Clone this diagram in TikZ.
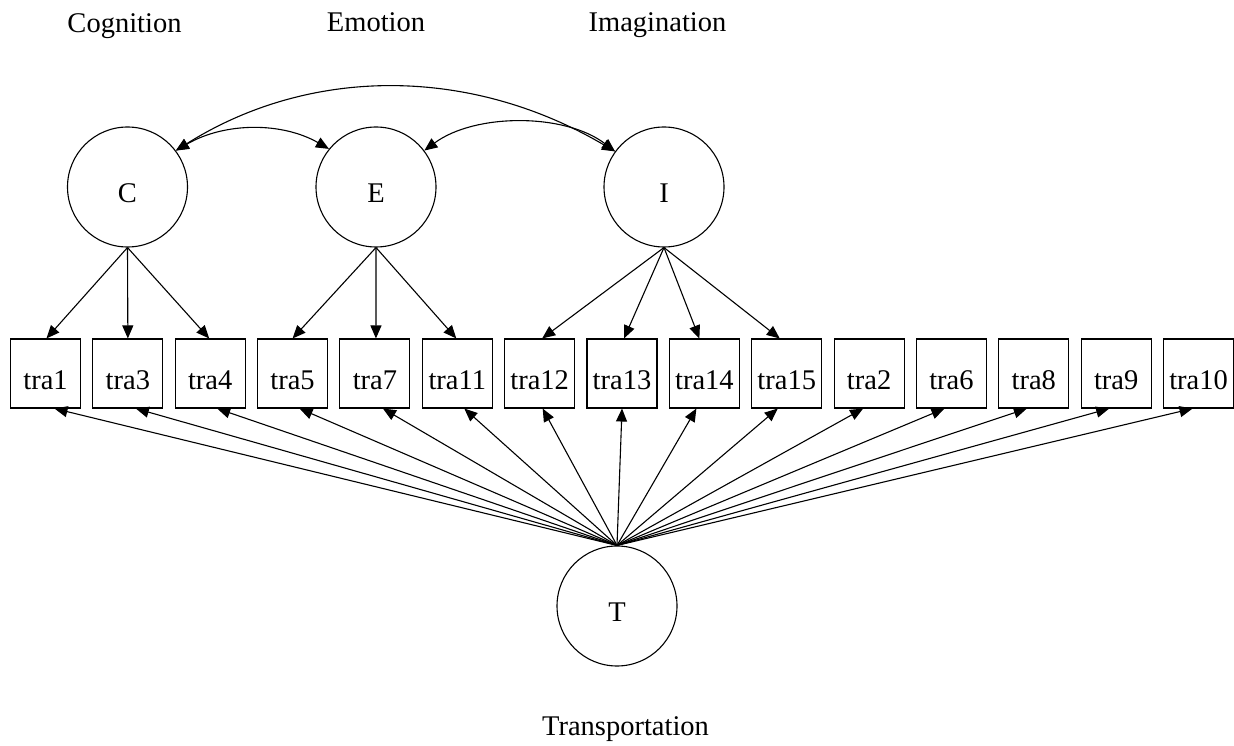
\documentclass[tikz,border=0pt]{standalone}
\usepackage{fontspec}
\setmainfont{Liberation Serif}
\usetikzlibrary{arrows.meta}
\begin{document}
\begin{tikzpicture}[x=1pt,y=-1pt,
  every node/.style={font=\fontsize{28.5}{34}\selectfont, inner sep=0pt},
  latent/.style={draw, circle, line width=1.1pt, minimum size=120pt, text height=31pt, text depth=0pt},
  obs/.style={draw, rectangle, line width=1.1pt, minimum width=70pt, minimum height=69pt, text height=31pt, text depth=0pt},
  lbl/.style={anchor=base},
  arr/.style={line width=1.1pt, -{Triangle[length=13pt,width=11pt]}},
  darr/.style={line width=1.1pt, {Triangle[length=13pt,width=11pt]}-{Triangle[length=13pt,width=11pt]}}
]
\useasboundingbox (0,0) rectangle (1234,746);
% latent factors
\node[latent] (C) at (127.5,187) {C};
\node[latent] (E) at (376,187) {E};
\node[latent] (I) at (664,187) {I};
\node[latent] (T) at (617,606) {T};
% labels
\node[lbl] (lC) at (124.5,33) {Cognition};
\node[lbl] (lE) at (376,32) {Emotion};
\node[lbl] (lI) at (657.5,32) {Imagination};
\node[lbl] (lT) at (625.5,735) {Transportation};
% observed
\foreach \n [count=\i from 0] in {1,3,4,5,7,11,12,13,14,15,2,6,8,9,10}
  \node[obs] (t\n) at ({45.5+82.36*\i},373.5) {tra\n};
% loadings
\foreach \n/\o in {1/1,3/0,4/-1} \draw[arr] (C.south) -- ([xshift=\o pt]t\n.north);
\foreach \n/\o in {5/0,7/1,11/-1} \draw[arr] (E.south) -- ([xshift=\o pt]t\n.north);
\foreach \n/\o in {12/2.5,13/2,14/-5,15/-7} \draw[arr] (I.south) -- ([xshift=\o pt]t\n.north);
\foreach \n/\o in {1/9,3/8,4/7,5/7,7/8,11/7,12/3,13/0,14/-8,15/-9,2/-6,6/-7,8/-7,9/-7,10/-6}
  \draw[arr] (T.north) -- ([xshift=\o pt]t\n.south);
% covariances
\draw[darr] (C.37) .. controls (225,122) and (282,122) .. (E.141);
\draw[darr] (E.37) .. controls (475,113) and (565,113) .. (I.144);
\draw[darr] (I.144) .. controls (470,66) and (310,66) .. (C.37);
\end{tikzpicture}
\end{document}
